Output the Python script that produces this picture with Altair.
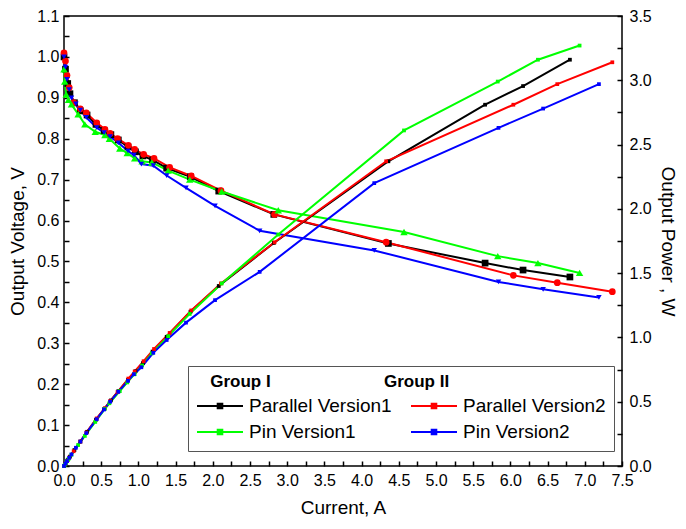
import altair as alt
import pandas as pd

series_names = ["Parallel Version1", "Parallel Version2", "Pin Version1", "Pin Version2"]
series_colors = ["#000000", "#ff0000", "#00ff00", "#0000ff"]
series_shapes = ["square", "circle", "triangle-up", "triangle-down"]
series_sizes = [45, 45, 55, 30]

# Parallel Version1 (black)
pv1_current = [0.0, 0.02, 0.05, 0.08, 0.14, 0.22, 0.31, 0.43, 0.54, 0.63, 0.73, 0.86, 0.96, 1.06, 1.19, 1.38, 1.70, 2.08, 2.82, 4.36, 5.66, 6.17, 6.80]
pv1_voltage = [1.00, 0.97, 0.935, 0.91, 0.888, 0.868, 0.858, 0.835, 0.82, 0.81, 0.797, 0.78, 0.768, 0.758, 0.748, 0.728, 0.707, 0.672, 0.615, 0.544, 0.496, 0.479, 0.462]
pv1_power = [0.0, 0.019, 0.047, 0.073, 0.124, 0.19, 0.266, 0.36, 0.443, 0.51, 0.582, 0.67, 0.737, 0.80, 0.89, 1.005, 1.20, 1.40, 1.735, 2.37, 2.81, 2.955, 3.16]

# Parallel Version2 (red)
pv2_current = [0.0, 0.02, 0.04, 0.07, 0.13, 0.22, 0.30, 0.44, 0.55, 0.62, 0.72, 0.865, 0.95, 1.07, 1.21, 1.42, 1.71, 2.11, 2.83, 4.33, 6.04, 6.63, 7.37]
pv2_voltage = [1.01, 0.99, 0.955, 0.925, 0.888, 0.873, 0.863, 0.839, 0.823, 0.813, 0.80, 0.784, 0.774, 0.762, 0.752, 0.73, 0.709, 0.673, 0.615, 0.547, 0.466, 0.448, 0.426]
pv2_power = [0.0, 0.02, 0.038, 0.065, 0.115, 0.19, 0.26, 0.37, 0.45, 0.505, 0.575, 0.68, 0.735, 0.815, 0.91, 1.035, 1.21, 1.42, 1.74, 2.37, 2.81, 2.97, 3.14]

# Pin Version1 (green)
pin1_current = [0.0, 0.01, 0.03, 0.06, 0.10, 0.19, 0.28, 0.42, 0.55, 0.61, 0.75, 0.85, 0.95, 1.05, 1.18, 1.40, 1.69, 2.12, 2.88, 4.57, 5.83, 6.37, 6.93]
pin1_voltage = [0.97, 0.94, 0.908, 0.895, 0.884, 0.86, 0.835, 0.817, 0.809, 0.80, 0.776, 0.765, 0.752, 0.745, 0.742, 0.722, 0.70, 0.671, 0.625, 0.572, 0.513, 0.496, 0.472]
pin1_power = [0.0, 0.009, 0.027, 0.054, 0.088, 0.163, 0.234, 0.343, 0.445, 0.488, 0.582, 0.65, 0.714, 0.782, 0.876, 1.01, 1.183, 1.42, 1.80, 2.61, 2.99, 3.16, 3.27]

# Pin Version2 (blue)
pin2_current = [0.0, 0.02, 0.04, 0.07, 0.10, 0.16, 0.22, 0.30, 0.44, 0.54, 0.62, 0.73, 0.86, 0.94, 1.04, 1.20, 1.38, 1.64, 2.03, 2.63, 4.17, 5.84, 6.44, 7.19]
pin2_voltage = [1.00, 0.975, 0.945, 0.92, 0.90, 0.885, 0.87, 0.852, 0.827, 0.815, 0.805, 0.79, 0.77, 0.76, 0.738, 0.734, 0.71, 0.68, 0.636, 0.575, 0.527, 0.45, 0.432, 0.412]
pin2_power = [0.0, 0.02, 0.038, 0.064, 0.09, 0.142, 0.19, 0.256, 0.364, 0.44, 0.50, 0.577, 0.662, 0.714, 0.768, 0.88, 0.98, 1.115, 1.29, 1.51, 2.20, 2.63, 2.78, 2.97]

x_ticks = [i * 0.25 for i in range(31)]
yv_ticks = [round(i * 0.05, 2) for i in range(23)]
yp_ticks = [i * 0.25 for i in range(15)]

rows = []
for name, cur, vol, pw in [
    (series_names[0], pv1_current, pv1_voltage, pv1_power),
    (series_names[1], pv2_current, pv2_voltage, pv2_power),
    (series_names[2], pin1_current, pin1_voltage, pin1_power),
    (series_names[3], pin2_current, pin2_voltage, pin2_power),
]:
    for c, v, p in zip(cur, vol, pw):
        rows.append({"series": name, "current": c, "voltage": v, "power": p})
df = pd.DataFrame(rows)

FONT = "Liberation Sans"
nb = "\u00a0"
legend_title = "\u200b" + nb * 3 + "Group I" + nb * 24 + "Group II"

color = alt.Color(
    "series:N",
    scale=alt.Scale(domain=series_names, range=series_colors),
    legend=alt.Legend(
        title=legend_title,
        orient="none",
        legendX=124,
        legendY=350,
        direction="horizontal",
        columns=2,
        columnPadding=18,
        rowPadding=4,
        padding=8,
        strokeColor="#555555",
        fillColor="white",
        titleFont=FONT,
        titleFontSize=17,
        titleFontWeight="bold",
        titleColor="black",
        titlePadding=4,
        titleLimit=500,
        labelFont=FONT,
        labelFontSize=19,
        labelColor="black",
        labelOffset=5,
        labelLimit=300,
        symbolType="M-1,0H1M-0.1,-0.1H0.1V0.1H-0.1Z",
        symbolSize=2116,
        symbolStrokeWidth=2,
        clipHeight=22,
    ),
)

x_enc = alt.X(
    "current:Q",
    scale=alt.Scale(domain=[0, 7.5], nice=False),
    axis=alt.Axis(
        title="Current, A",
        values=x_ticks,
        labelExpr="abs(datum.value*2 - round(datum.value*2)) < 0.001 ? format(datum.value, '.1f') : ''",
        offset=-5,
        tickSize=5,
        domain=False,
        grid=False,
        labelPadding=6,
        titlePadding=10,
        labelOverlap=False,
        labelFlush=False,
    ),
)

yv_enc = alt.Y(
    "voltage:Q",
    scale=alt.Scale(domain=[0, 1.1], nice=False, zero=True),
    axis=alt.Axis(
        title="Output Voltage, V",
        orient="left",
        values=yv_ticks,
        labelExpr="abs(datum.value*10 - round(datum.value*10)) < 0.001 ? format(datum.value, '.1f') : ''",
        offset=-5,
        tickSize=5,
        domain=False,
        grid=False,
        labelPadding=5,
        titlePadding=9,
        labelOverlap=False,
        labelFlush=False,
    ),
)

yp_enc = alt.Y(
    "power:Q",
    scale=alt.Scale(domain=[0, 3.5], nice=False, zero=True),
    axis=alt.Axis(
        title="Output Power , W",
        orient="right",
        values=yp_ticks,
        labelExpr="abs(datum.value*2 - round(datum.value*2)) < 0.001 ? format(datum.value, '.1f') : ''",
        offset=-5,
        tickSize=5,
        domain=False,
        grid=False,
        labelPadding=7,
        titlePadding=6,
        labelOverlap=False,
        labelFlush=False,
    ),
)

base = alt.Chart(df)

v_line = base.mark_line(strokeWidth=2).encode(x=x_enc, y=yv_enc, color=color)
v_pts = [
    base.transform_filter(alt.datum.series == name)
    .mark_point(filled=True, opacity=1, shape=shp, size=sz)
    .encode(x=x_enc, y=yv_enc, color=color)
    for name, shp, sz in zip(series_names, series_shapes, series_sizes)
]

p_line = base.mark_line(strokeWidth=2).encode(x=x_enc, y=yp_enc, color=color)
p_pts = base.mark_square(size=14, opacity=1).encode(x=x_enc, y=yp_enc, color=color)

chart = (
    alt.layer(alt.layer(v_line, *v_pts), alt.layer(p_line, p_pts))
    .resolve_scale(y="independent")
    .properties(
        width=558,
        height=450,
        autosize=alt.AutoSizeParams(type="none"),
        padding={"left": 56, "top": 8, "right": 56, "bottom": 55},
        background="white",
    )
    .configure_view(stroke="black", strokeWidth=1.5)
    .configure_axis(
        labelFont=FONT,
        labelFontSize=16,
        labelColor="black",
        titleFont=FONT,
        titleFontSize=19,
        titleFontWeight="normal",
        titleColor="black",
        tickColor="black",
        tickWidth=1.5,
    )
)

chart.save("out.html", embed_options={"renderer": "svg", "actions": False})
